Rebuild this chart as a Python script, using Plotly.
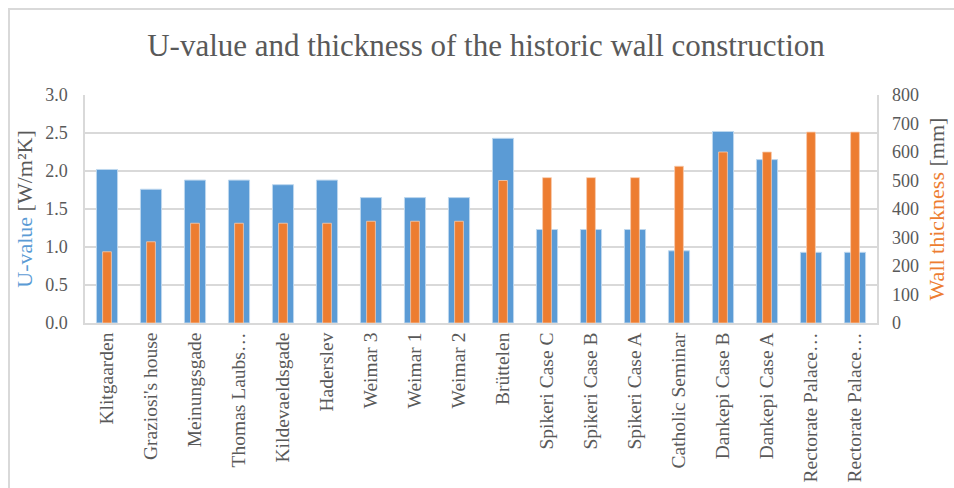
import plotly.graph_objects as go

# data
buildings = ["Klitgaarden", "Graziosi's house", "Meinungsgade", "Thomas Laubs…",
             "Kildevaeldsgade", "Haderslev", "Weimar 3", "Weimar 1", "Weimar 2",
             "Brüttelen", "Spikeri Case C", "Spikeri Case B", "Spikeri Case A",
             "Catholic Seminar", "Dankepi Case B", "Dankepi Case A",
             "Rectorate Palace…", "Rectorate Palace…"]
u_value = [2.02, 1.76, 1.88, 1.88, 1.82, 1.88, 1.65, 1.65, 1.65, 2.43,
           1.23, 1.23, 1.23, 0.95, 2.52, 2.15, 0.93, 0.93]
thickness_mm = [250, 285, 350, 350, 350, 350, 357, 357, 357, 500,
                510, 510, 510, 550, 600, 600, 670, 670]

u_ticks = [0, 0.5, 1.0, 1.5, 2.0, 2.5, 3.0]
mm_ticks = [0, 100, 200, 300, 400, 500, 600, 700, 800]

BLUE = "#5B9BD5"
ORANGE = "#ED7D31"
GREY = "#595959"
GRID = "#D9D9D9"
FONT = "Liberation Serif, Times New Roman, serif"

idx = list(range(len(buildings)))

fig = go.Figure()
fig.add_trace(go.Bar(
    x=idx, y=u_value, name="U-value", width=0.48,
    marker=dict(color=BLUE, line=dict(color="#BDD7EE", width=1)),
    yaxis="y",
))
fig.add_trace(go.Bar(
    x=idx, y=thickness_mm, name="Wall thickness", width=0.2,
    marker=dict(color=ORANGE, line=dict(color="#F8CBAD", width=0.8)),
    yaxis="y2",
))

L, R, T, B = 85, 77, 95, 165
W, H = 954, 488
pw, ph = W - L - R, H - T - B

fig.update_layout(
    width=W, height=H,
    margin=dict(l=L, r=R, t=T, b=B, autoexpand=False),
    barmode="overlay",
    showlegend=False,
    paper_bgcolor="white", plot_bgcolor="white",
    font=dict(family=FONT, color=GREY, size=18),
    title=dict(text="U-value and thickness of the historic wall construction",
               x=486 / W, xanchor="center", y=1 - 45 / H, yanchor="middle",
               font=dict(family=FONT, size=31, color=GREY)),
    xaxis=dict(
        tickmode="array", tickvals=idx, ticktext=buildings,
        range=[-0.5, len(buildings) - 0.5], automargin=False,
        tickangle=-90, tickfont=dict(size=19.5, color=GREY),
        showgrid=False, showline=True, linecolor=GRID, linewidth=1.5,
        ticks="", zeroline=False,
    ),
    yaxis=dict(
        range=[0, 3.0], tickvals=u_ticks, tickformat=".1f", automargin=False,
        showgrid=True, gridcolor=GRID, gridwidth=1.5,
        showline=True, linecolor=GRID, linewidth=1.5, mirror=True,
        zeroline=False, ticks="", tickfont=dict(size=18, color=GREY),
        ticklabelstandoff=12,
        title=dict(text=f"<span style='color:{BLUE}'>U-value</span> [W/m²K]",
                   font=dict(size=22, color=GREY), standoff=6),
    ),
    yaxis2=dict(
        range=[0, 800], tickvals=mm_ticks, overlaying="y", side="right",
        showgrid=False, zeroline=False, ticks="", showline=False, automargin=False,
        tickfont=dict(size=18, color=GREY), ticklabelstandoff=14,
        title=dict(text=f"<span style='color:{ORANGE}'>Wall thickness</span> [mm]",
                   font=dict(size=22, color=GREY), standoff=10),
    ),
)

# outer chart border
fig.add_shape(type="rect", xref="paper", yref="paper",
              x0=(9 - L) / pw, x1=(W + 20 - L) / pw,
              y0=-(B + 20) / ph, y1=(H - B - 9) / ph,
              line=dict(color=GRID, width=2), layer="below")

# drop the default page margin so the figure sits at the window's top-left
fig.write_html("out.html", config={"displayModeBar": False},
               post_script="document.body.style.margin='0';")
